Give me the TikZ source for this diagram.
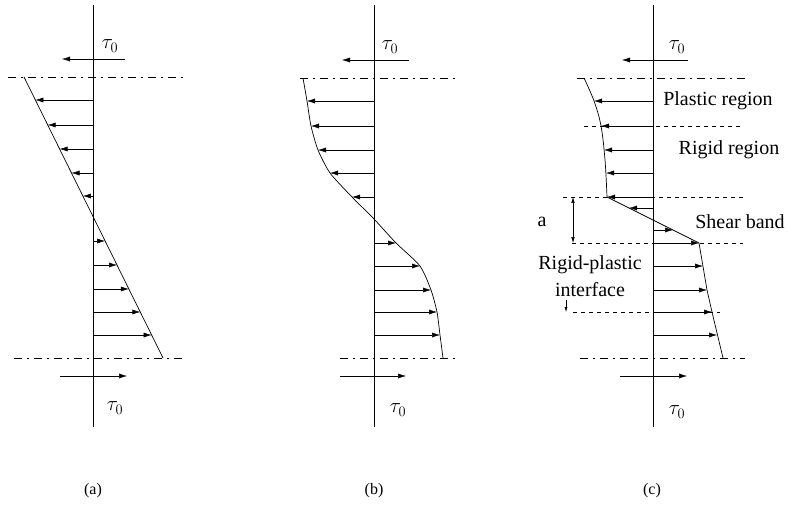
\documentclass[tikz,border=0pt]{standalone}
\usepackage{fontspec}
\setmainfont{Liberation Serif}
\usetikzlibrary{arrows.meta}
\begin{document}
\begin{tikzpicture}[x=1pt,y=-1pt,
  axisline/.style={line width=0.8pt},
  refline/.style={line width=0.5pt, dash pattern=on 4pt off 4pt},
  edgeline/.style={line width=0.5pt, dash pattern=on 8pt off 5pt on 2pt off 5pt},
  profile/.style={line width=0.7pt},
  vec/.style={-{Latex[length=8pt,width=5pt]}, line width=0.5pt},
  dimarrow/.style={{Latex[length=6pt,width=3.5pt]}-{Latex[length=6pt,width=3.5pt]}, line width=0.5pt},
  lbl/.style={font=\fontsize{20}{22}\selectfont, inner sep=0pt},
  taulbl/.style={font=\fontsize{22}{24}\selectfont, inner sep=0pt},
  capt/.style={font=\fontsize{16}{18}\selectfont, inner sep=0pt}]
\useasboundingbox (0,0) rectangle (791,529);

% ---------------- panel (a) ----------------
\coordinate (aT) at (93,5); \coordinate (aB) at (93,427);
\draw[axisline] (aT) -- (aB);
\coordinate (aTs) at (125,59); \coordinate (aTe) at (62,59);
\draw[vec] (aTs) -- (aTe);
\node[taulbl] (aTl) at (110,46) {$\tau_0$};
\coordinate (aR1) at (8,77); \coordinate (aR2) at (183,77);
\draw[edgeline] (aR1) -- (aR2);
\coordinate (aR3) at (14,358); \coordinate (aR4) at (186,358);
\draw[edgeline] (aR3) -- (aR4);
\coordinate (aP0) at (24,77); \coordinate (aPn) at (163,358);
\draw[profile] (aP0) -- (aPn);
\foreach \y/\x [count=\i] in {100/35.4,125/47.7,149/59.6,173/71.5,196/82.9,241/105.1,265/117,289/128.9,312/140.3,335/151.6}{
  \coordinate (aA\i) at (93,\y); \coordinate (aQ\i) at (\x,\y);
  \draw[vec] (aA\i) -- (aQ\i);
}
\coordinate (aBs) at (60,376); \coordinate (aBe) at (127,376);
\draw[vec] (aBs) -- (aBe);
\node[taulbl] (aBl) at (115,408) {$\tau_0$};
\node[capt] (capa) at (93,491) {(a)};

% ---------------- panel (b) ----------------
\coordinate (bT) at (374,5); \coordinate (bB) at (374,427);
\draw[axisline] (bT) -- (bB);
\coordinate (bTs) at (409,60); \coordinate (bTe) at (342,60);
\draw[vec] (bTs) -- (bTe);
\node[taulbl] (bTl) at (390,47) {$\tau_0$};
\coordinate (bR1) at (300,78); \coordinate (bR2) at (455,78);
\draw[edgeline] (bR1) -- (bR2);
\coordinate (bR3) at (340,358); \coordinate (bR4) at (455,358);
\draw[edgeline] (bR3) -- (bR4);
\draw[profile] plot[smooth, tension=0.4] coordinates {(303,78) (307,101) (311,126) (318,150) (330,173) (352,197) (374,219) (396,243) (420,266) (431,290) (437,312) (440,335) (443,358)};
\foreach \y/\x [count=\i] in {101/307,126/311,150/318,173/330,197/352,243/396,266/420,290/431,312/437,335/440}{
  \coordinate (bA\i) at (374,\y); \coordinate (bQ\i) at (\x,\y);
  \draw[vec] (bA\i) -- (bQ\i);
}
\coordinate (bBs) at (340,376); \coordinate (bBe) at (406,376);
\draw[vec] (bBs) -- (bBe);
\node[taulbl] (bBl) at (398,410) {$\tau_0$};
\node[capt] (capb) at (374,491) {(b)};

% ---------------- panel (c) ----------------
\coordinate (cT) at (653,5); \coordinate (cB) at (653,427);
\draw[axisline] (cT) -- (cB);
\coordinate (cTs) at (688,60); \coordinate (cTe) at (622,60);
\draw[vec] (cTs) -- (cTe);
\node[taulbl] (cTl) at (677,47) {$\tau_0$};
\coordinate (cR1) at (577,78); \coordinate (cR2) at (747,78);
\draw[edgeline] (cR1) -- (cR2);
\coordinate (cR3) at (580,358); \coordinate (cR4) at (745,358);
\draw[edgeline] (cR3) -- (cR4);
\foreach \y/\xa/\xb [count=\i] in {126/584/743,197/563/743,243/572/743,312/573/720}{
  \coordinate (cL\i) at (\xa,\y); \coordinate (cM\i) at (\xb,\y);
  \draw[refline] (cL\i) -- (cM\i);
}
\coordinate (cK1) at (607,197); \coordinate (cK2) at (699,243);
\draw[profile] plot[smooth, tension=0.6] coordinates {(584,78) (594,101) (601,126) (605,160) (607,197)} -- (cK2) -- (707,290) -- (712,312) -- (723,358);
\foreach \y/\x [count=\i] in {101/594,126/601,150/604,173/606,197/607,208/629,230/673,243/699,266/703,290/707,312/712,335/717}{
  \coordinate (cA\i) at (653,\y); \coordinate (cQ\i) at (\x,\y);
  \draw[vec] (cA\i) -- (cQ\i);
}
\coordinate (cBs) at (620,376); \coordinate (cBe) at (687,376);
\draw[vec] (cBs) -- (cBe);
\node[taulbl] (cBl) at (677,412) {$\tau_0$};
\node[capt] (capc) at (652,491) {(c)};

% annotations
\node[lbl] (plast) at (718,101) {Plastic region};
\node[lbl] (rigid) at (729,150) {Rigid region};
\node[lbl] (shear) at (740,222) {Shear band};
\node[lbl] (rp1) at (590,265) {Rigid-plastic};
\node[lbl] (rp2) at (590,290) {interface};
\node[lbl] (adim) at (542,222) {a};
\coordinate (dA) at (573,197); \coordinate (dB) at (573,243);
\draw[dimarrow] (dA) -- (dB);
\coordinate (iA) at (566,300); \coordinate (iB) at (566,312);
\draw[-{Latex[length=5pt,width=3pt]}, line width=0.5pt] (iA) -- (iB);
\end{tikzpicture}
\end{document}
